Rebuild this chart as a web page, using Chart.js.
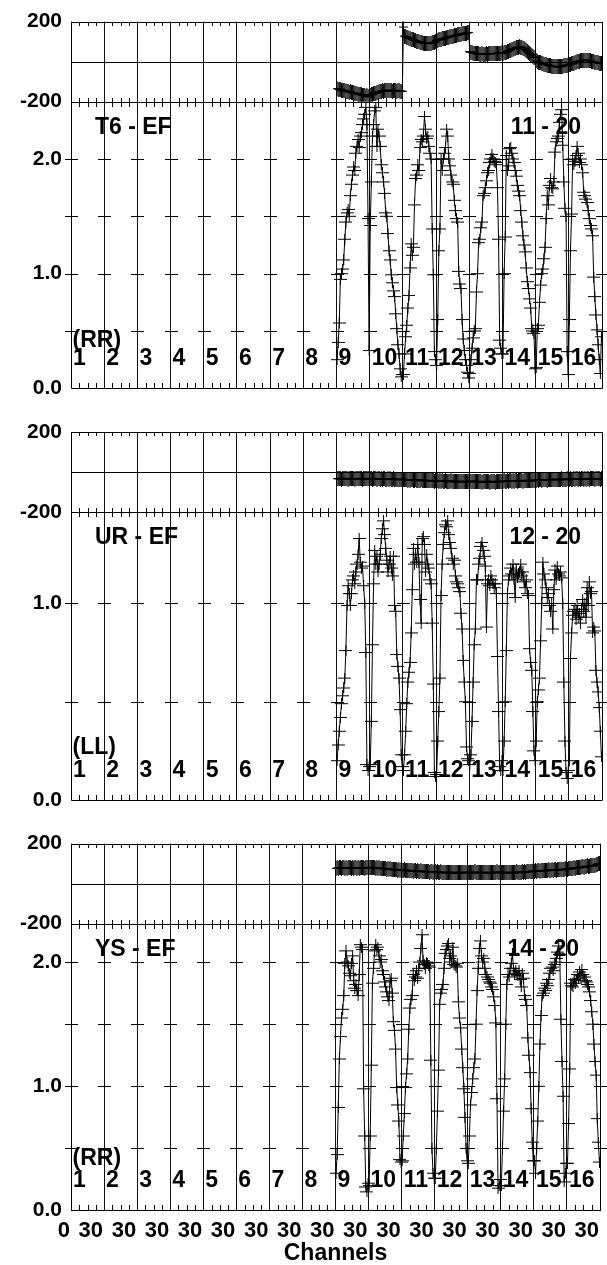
<!DOCTYPE html>
<html><head><meta charset="utf-8">
<script src="https://cdn.jsdelivr.net/npm/chart.js@4.4.1/dist/chart.umd.min.js"></script>
<style>
html,body{margin:0;padding:0;background:#fff;}
body{width:607px;height:1265px;position:relative;overflow:hidden;}
canvas{position:absolute;left:0;}
</style></head><body>
<canvas id="c1" width="607" height="410" style="top:0px"></canvas>
<canvas id="c2" width="607" height="412" style="top:410px"></canvas>
<canvas id="c3" width="607" height="443" style="top:822px"></canvas>
<script>
// ---------------- data ----------------
const channelsPerIF = 30;
const numIFs = 16;
const firstDataIF = 9;
const ifLabels = ['1','2','3','4','5','6','7','8','9','10','11','12','13','14','15','16'];
const channelTickLabels = ['0','30','30','30','30','30','30','30','30','30','30','30','30','30','30','30','30'];
const phaseTickValues = [-200, 0, 200];
const phaseTickText = ['-200', '', '200'];
const ampTickValues = [0, 0.5, 1.0, 1.5, 2.0];
const ampTickText = ['0.0', '', '1.0', '', '2.0'];

const baselines = ['T6 - EF', 'UR - EF', 'YS - EF'];
const plotNumbers = ['11 - 20', '12 - 20', '14 - 20'];
const stokes = ['(RR)', '(LL)', '(RR)'];
const ampMax = [2.5, 1.465, 2.31];

// T6 - EF, IFs 9..16, 30 channels each
const ampT6 = [
 0.25,0.40,0.57,0.95,1.00,1.04,1.12,1.30,1.45,1.53,1.56,1.50,1.68,1.78,1.86,1.93,1.90,2.05,2.11,2.17,2.10,2.20,2.23,2.30,2.35,2.39,2.45,2.30,1.48,0.33,
 1.42,1.80,2.20,2.30,2.42,2.45,2.11,2.26,2.20,2.11,1.95,1.88,1.80,1.70,1.53,1.50,1.35,1.20,1.12,0.99,0.92,0.85,0.80,0.65,0.52,0.38,0.30,0.17,0.10,0.12,
 0.12,0.30,0.45,0.55,0.70,0.81,1.05,1.26,1.16,1.23,1.60,1.83,1.86,1.95,1.90,2.10,2.17,2.15,2.20,2.37,2.26,2.18,2.20,2.11,2.05,2.00,1.39,0.99,0.32,0.25,
 0.20,0.60,1.20,1.39,2.00,1.90,2.00,2.05,2.10,2.26,2.20,2.00,1.94,1.86,1.80,1.78,1.64,1.55,1.48,1.45,1.02,0.91,0.87,0.60,0.43,0.33,0.25,0.20,0.14,0.09,
 0.13,0.25,0.35,0.44,0.50,0.52,0.84,1.00,1.27,1.30,1.40,1.45,1.68,1.70,1.75,1.81,1.88,1.90,1.97,2.00,2.04,2.00,1.98,1.97,1.95,1.75,1.30,0.42,0.35,0.30,
 0.30,1.00,1.32,2.03,1.90,1.94,2.09,2.10,2.05,2.00,1.97,1.90,1.85,1.77,1.72,1.68,1.55,1.45,1.33,1.25,1.19,1.05,0.93,0.87,0.78,0.70,0.52,0.50,0.48,0.17,
 0.18,0.52,0.55,0.75,0.90,1.00,1.04,1.13,1.23,1.48,1.68,1.60,1.77,1.83,1.75,1.74,1.80,2.06,2.15,2.18,2.20,2.32,2.39,2.43,2.12,1.80,1.57,1.50,0.32,0.12,
 0.60,1.20,1.52,2.00,1.95,1.98,2.03,2.11,2.05,1.97,2.00,1.95,1.88,1.71,1.68,1.65,1.62,1.55,1.48,1.42,1.39,1.33,0.97,0.80,0.64,0.51,0.38,0.25,0.13,0.45
];
const phaseT6 = [
 -135,-137,-140,-138,-142,-144,-143,-146,-149,-147,-150,-152,-151,-154,-156,-155,-158,-160,-159,-162,-164,-163,-166,-168,-167,-170,-172,-171,-174,-176,
 -168,-165,-163,-160,-158,-157,-155,-152,-150,-151,-148,-146,-147,-145,-143,-145,-146,-144,-142,-145,-147,-145,-143,-146,-148,-146,-144,-147,-149,-148,
 173,128,125,122,120,117,115,113,111,109,107,105,103,101,99,97,96,94,93,92,91,90,90,91,92,93,94,96,97,99,
 106,108,109,111,112,114,115,117,118,120,121,123,124,126,127,128,130,131,132,134,135,136,137,139,140,141,142,143,144,146,
 50,47,45,43,42,41,40,39,39,38,38,39,38,37,38,39,38,39,40,39,40,41,40,41,42,41,42,43,42,44,
 42,44,46,48,51,53,56,58,61,63,66,68,70,72,73,74,73,71,68,64,60,55,50,45,40,35,30,26,22,19,
 4,1,-2,-4,-6,-8,-10,-12,-14,-15,-17,-18,-20,-21,-22,-23,-24,-25,-25,-26,-26,-25,-24,-23,-22,-20,-19,-18,-17,-16,
 -15,-13,-11,-9,-7,-5,-3,-1,1,3,4,5,6,7,7,8,7,6,5,4,2,0,-1,-3,-4,-5,-6,-7,-8,-9
];

// UR - EF
const ampUR = [
 0.20,0.28,0.35,0.42,0.49,0.53,0.57,0.62,0.76,0.99,1.09,1.05,0.99,1.05,1.12,1.14,1.10,1.16,1.20,1.25,1.33,1.21,1.18,1.19,1.09,1.00,0.75,0.18,0.15,0.17,
 0.18,0.40,0.79,1.10,1.27,1.20,1.24,1.16,1.20,1.25,1.33,1.38,1.42,1.35,1.28,1.22,1.16,1.20,1.24,1.18,1.14,1.24,0.99,0.96,0.74,0.68,0.62,0.46,0.23,0.17,
 0.15,0.23,0.35,0.49,0.60,0.65,0.70,0.85,1.07,1.28,1.20,1.25,1.21,1.30,1.21,1.02,0.90,1.33,1.34,1.30,1.16,1.25,1.20,1.18,1.12,1.10,0.90,0.59,0.14,0.12,
 0.13,0.30,0.45,0.62,1.04,1.20,1.30,1.36,1.40,1.39,1.42,1.35,1.31,1.28,1.23,1.20,1.22,1.14,1.11,1.10,1.08,1.06,0.95,0.87,0.71,0.60,0.50,0.27,0.21,0.20,
 0.18,0.23,0.40,0.60,0.79,0.87,1.12,1.12,1.20,1.23,1.29,1.31,1.27,1.24,1.19,0.88,1.10,1.12,1.09,1.14,1.12,1.10,1.08,1.10,1.05,0.73,0.45,0.17,0.15,0.20,
 0.15,0.30,0.50,0.76,1.05,1.12,1.14,1.18,1.15,1.20,1.12,1.03,1.17,1.13,1.15,1.16,1.20,1.14,1.16,1.11,1.08,1.12,1.05,1.04,0.77,0.70,0.66,0.45,0.25,0.20,
 0.30,0.50,0.56,0.62,0.81,1.00,1.21,1.15,1.12,1.08,1.03,1.05,0.99,0.96,1.00,0.87,1.07,1.17,1.12,1.19,1.15,1.14,1.16,1.13,1.00,0.60,0.30,0.14,0.11,0.15,
 0.20,0.72,0.85,0.94,0.96,0.97,0.92,0.99,0.93,0.95,0.90,0.97,1.02,0.96,1.00,0.93,1.08,0.99,1.11,1.05,1.06,0.85,0.88,0.86,0.66,0.60,0.55,0.47,0.35,0.22
];
const phaseUR = [
 -32,-34,-31,-33,-35,-32,-30,-34,-33,-31,-35,-33,-32,-34,-31,-33,-35,-32,-34,-33,-31,-34,-32,-35,-33,-31,-34,-32,-33,-34,
 -33,-31,-35,-32,-34,-33,-36,-32,-34,-35,-33,-36,-34,-32,-35,-37,-34,-36,-33,-35,-37,-34,-36,-38,-35,-37,-36,-38,-35,-37,
 -38,-36,-39,-37,-40,-38,-41,-39,-37,-40,-42,-39,-41,-43,-40,-42,-39,-41,-43,-40,-42,-44,-41,-43,-42,-44,-41,-43,-45,-42,
 -44,-42,-45,-43,-46,-44,-47,-45,-43,-46,-48,-45,-47,-44,-46,-48,-45,-47,-49,-46,-48,-45,-47,-49,-46,-48,-47,-45,-48,-46,
 -47,-45,-48,-46,-49,-47,-45,-48,-46,-49,-47,-50,-48,-46,-49,-47,-45,-48,-50,-47,-49,-46,-48,-50,-47,-45,-48,-46,-49,-47,
 -46,-44,-47,-45,-43,-46,-44,-42,-45,-43,-46,-44,-42,-45,-43,-41,-44,-42,-45,-43,-41,-44,-42,-40,-43,-41,-44,-42,-40,-43,
 -40,-38,-41,-39,-37,-40,-38,-36,-39,-37,-40,-38,-36,-39,-37,-35,-38,-36,-39,-37,-35,-38,-36,-34,-37,-35,-38,-36,-34,-37,
 -36,-34,-37,-35,-33,-36,-34,-32,-35,-33,-36,-34,-32,-35,-33,-36,-34,-32,-35,-33,-31,-34,-32,-35,-33,-31,-34,-32,-35,-33
];

// YS - EF
const ampYS = [
 0.30,0.45,0.83,1.22,1.40,1.55,1.62,1.73,1.99,2.09,2.00,1.97,1.91,1.89,1.99,2.05,1.85,1.79,1.82,1.77,1.73,1.90,2.14,2.12,2.10,0.98,0.60,0.19,0.15,0.22,
 0.20,0.60,1.17,1.83,1.95,2.09,2.14,2.10,2.12,2.05,2.00,2.02,1.93,1.90,1.84,1.80,1.76,1.72,1.69,1.85,1.87,1.75,1.52,1.45,1.30,0.99,0.85,0.72,0.41,0.39,
 0.40,0.60,0.78,0.99,1.10,1.22,1.46,1.63,1.70,1.73,1.90,1.85,1.88,1.93,1.87,1.95,2.00,2.11,2.22,2.01,1.98,1.95,2.00,1.99,1.97,1.96,1.21,0.50,0.30,0.26,
 0.26,0.50,0.80,1.13,1.66,1.75,1.78,1.82,1.95,2.07,2.10,2.13,2.15,2.03,2.05,2.00,2.12,1.98,1.97,1.96,1.99,1.68,1.55,1.47,1.30,1.15,0.98,0.75,0.50,0.40,
 0.38,0.60,0.85,0.95,1.06,1.15,1.22,1.50,1.77,1.95,2.11,2.17,2.05,2.00,2.03,1.95,1.90,1.88,1.86,1.84,1.83,1.80,1.78,1.72,1.65,1.51,0.90,0.18,0.20,0.25,
 0.20,0.50,0.80,1.06,1.50,1.82,1.90,1.88,1.95,1.99,2.07,1.95,1.90,1.93,1.91,1.89,1.93,1.86,1.80,1.91,1.87,1.73,1.70,1.65,1.39,1.25,1.11,0.82,0.55,0.40,
 0.40,0.30,0.50,0.72,1.00,1.34,1.57,1.73,1.75,1.79,1.77,1.83,1.81,1.86,1.91,1.95,1.96,1.93,1.98,2.00,2.03,2.08,2.13,2.06,1.54,1.20,0.92,0.23,0.30,0.38,
 0.38,0.70,1.14,1.83,1.81,1.80,1.86,1.83,1.85,1.90,1.87,1.92,1.89,1.94,1.90,1.88,1.85,1.84,1.82,1.80,1.76,1.69,1.60,1.50,1.34,1.20,1.09,0.74,0.55,0.39
];
const phaseYS = [
 76,79,77,80,78,75,78,80,77,79,76,78,81,78,76,79,77,80,78,76,79,77,80,78,81,79,77,80,78,80,
 80,82,79,81,78,80,77,79,76,78,75,77,74,76,73,75,72,74,71,73,70,72,69,71,68,70,67,69,66,68,
 67,65,68,66,64,67,65,63,66,64,62,65,63,61,64,62,60,63,61,59,62,60,58,61,59,57,60,58,56,59,
 58,56,59,57,55,58,56,54,57,55,53,56,54,57,55,53,56,54,57,55,53,56,54,57,55,53,56,54,57,55,
 55,57,54,56,53,55,58,56,54,57,55,53,56,54,57,55,53,56,54,57,55,53,56,54,57,55,58,56,54,57,
 56,54,57,55,53,56,54,57,55,53,56,54,57,55,58,56,54,57,55,58,56,59,57,60,58,61,59,62,60,63,
 62,64,61,63,65,62,64,66,63,65,67,64,66,68,65,67,69,66,68,70,67,69,71,68,70,72,69,71,73,70,
 72,74,76,73,75,77,79,76,78,80,82,79,81,83,85,82,84,86,88,85,87,89,91,88,90,92,94,97,99,101
];

// ---------------- helpers ----------------
const FONT = '"Liberation Sans", Arial, Helvetica, sans-serif';

function toPoints(values) {
  const x0 = (firstDataIF - 1) * channelsPerIF;
  return values.map((v, i) => ({ x: x0 + i + 0.5, y: v }));
}
function makeCross(w, h) {
  const c = document.createElement('canvas');
  c.width = w; c.height = h;
  const g = c.getContext('2d');
  g.fillStyle = '#000';
  g.fillRect(0, Math.floor(h / 2), w, 1);
  g.fillRect(Math.floor(w / 2), 0, 1, h);
  return c;
}
const ampCross = makeCross(13, 11);
const phaseCross = makeCross(9, 15);

const decorPlugin = {
  id: 'decor',
  beforeDatasetsDraw(chart, args, o) {
    const ctx = chart.ctx;
    const xs = chart.scales.x, yP = chart.scales.yP, yA = chart.scales.yA;
    const L = chart.chartArea.left, R = chart.chartArea.right;
    const M = yP.bottom, B = yA.bottom;
    ctx.save();
    ctx.fillStyle = '#000';
    ctx.font = 'bold 23px ' + FONT;
    ctx.textBaseline = 'middle';
    ctx.textAlign = 'left';
    ctx.fillText(o.baseline, L + 24, M + 26);
    ctx.textAlign = 'right';
    ctx.fillText(o.plotNo, R - 21, M + 26);
    ctx.textAlign = 'left';
    ctx.fillText(o.stokes, L + 1.5, B - o.stokesOffset);
    ifLabels.forEach((s, k) => {
      ctx.fillText(s, xs.getPixelForValue(k * channelsPerIF) + 2, B - 29.5);
    });
    ctx.restore();
  },
  afterDatasetsDraw(chart) {
    const ctx = chart.ctx;
    const xs = chart.scales.x, yP = chart.scales.yP, yA = chart.scales.yA;
    const L = chart.chartArea.left, R = chart.chartArea.right;
    const T = yP.top, M = yP.bottom, B = yA.bottom;
    const cx = v => Math.round(v) + 0.5;
    ctx.save();
    ctx.strokeStyle = '#000';
    ctx.lineWidth = 1;
    ctx.beginPath();
    ctx.rect(cx(L), cx(T), Math.round(R) - Math.round(L), Math.round(B) - Math.round(T));
    ctx.moveTo(cx(L), cx(M)); ctx.lineTo(cx(R), cx(M));
    const z = cx(yP.getPixelForValue(0));
    ctx.moveTo(cx(L), z); ctx.lineTo(cx(R), z);
    const xmax = numIFs * channelsPerIF;
    const minor = channelsPerIF / 4;
    for (let v = minor; v < xmax; v += minor) {
      if (v % channelsPerIF === 0) continue;
      const px = cx(xs.getPixelForValue(v));
      ctx.moveTo(px, Math.round(T)); ctx.lineTo(px, Math.round(T) + 4);
      ctx.moveTo(px, Math.round(M) - 4); ctx.lineTo(px, Math.round(M) + 5);
      ctx.moveTo(px, Math.round(B) - 5); ctx.lineTo(px, Math.round(B));
    }
    for (const t of yA.ticks) {
      if (t.value <= 0 || t.value >= yA.max - 1e-6) continue;
      const py = cx(yA.getPixelForValue(t.value));
      for (let k = 0; k <= numIFs; k++) {
        const px = Math.round(xs.getPixelForValue(k * channelsPerIF));
        ctx.moveTo(px - 6, py); ctx.lineTo(px + 7, py);
      }
    }
    ctx.stroke();
    ctx.restore();
  }
};

function lineStyle(img) {
  return {
    borderColor: '#000', borderWidth: 1, tension: 0, fill: false,
    pointStyle: img, pointRadius: 4, pointHoverRadius: 4,
    pointBackgroundColor: '#000', pointBorderColor: '#000'
  };
}

function makePanel(id, idx, geo) {
  const showX = geo.showX;
  const tickFont = { family: FONT, size: 21, weight: 'bold' };
  return new Chart(document.getElementById(id), {
    type: 'line',
    data: {
      datasets: [
        Object.assign({ label: 'phase', yAxisID: 'yP', data: toPoints(geo.phase) }, lineStyle(phaseCross)),
        Object.assign({ label: 'amplitude', yAxisID: 'yA', data: toPoints(geo.amp) }, lineStyle(ampCross))
      ]
    },
    options: {
      responsive: false, animation: false, devicePixelRatio: 1, events: [],
      layout: { padding: { top: geo.padTop, right: 2.7, bottom: 0, left: 0 } },
      plugins: {
        legend: { display: false }, tooltip: { enabled: false },
        decor: { baseline: baselines[idx], plotNo: plotNumbers[idx], stokes: stokes[idx], stokesOffset: geo.stokesOffset }
      },
      scales: {
        x: {
          type: 'linear', position: 'bottom', min: 0, max: numIFs * channelsPerIF,
          afterFit: s => { s.height = geo.xHeight; },
          grid: { color: '#111', lineWidth: 1, drawTicks: false },
          border: { display: false },
          ticks: {
            display: showX, stepSize: channelsPerIF, autoSkip: false, maxRotation: 0, minRotation: 0,
            align: 'end', padding: 7, labelOffset: -1, color: '#000',
            font: { family: FONT, size: 22, weight: 'bold' },
            callback: (v, i) => channelTickLabels[i]
          },
          title: {
            display: showX, text: 'Channels', color: '#000', padding: 0,
            font: { family: FONT, size: 23, weight: 'bold', lineHeight: 1 }
          }
        },
        yP: {
          type: 'linear', position: 'left', stack: 'panel', stackWeight: geo.wP, weight: 2,
          min: phaseTickValues[0], max: phaseTickValues[2],
          afterFit: s => { s.width = 71; },
          grid: { display: false, drawTicks: false }, border: { display: false },
          ticks: {
            stepSize: 200, autoSkip: false, padding: 9, color: '#000', font: tickFont,
            callback: v => { const i = phaseTickValues.indexOf(v); return i >= 0 ? phaseTickText[i] : ''; }
          }
        },
        yA: {
          type: 'linear', position: 'left', stack: 'panel', stackWeight: geo.wA, weight: 1,
          min: 0, max: ampMax[idx],
          afterFit: s => { s.width = 71; },
          grid: { display: false, drawTicks: false }, border: { display: false },
          ticks: {
            stepSize: 0.5, autoSkip: false, padding: 9, color: '#000', font: tickFont,
            callback: v => { const i = ampTickValues.findIndex(t => Math.abs(t - v) < 1e-6); return i >= 0 ? ampTickText[i] : ''; }
          }
        }
      }
    },
    plugins: [decorPlugin]
  });
}

makePanel('c1', 0, { amp: ampT6, phase: phaseT6, padTop: 19.5, xHeight: 21.7, wP: 80.5, wA: 288.3, stokesOffset: 48, showX: false });
makePanel('c2', 1, { amp: ampUR, phase: phaseUR, padTop: 22.3, xHeight: 22, wP: 79.7, wA: 288, stokesOffset: 52, showX: false });
makePanel('c3', 2, { amp: ampYS, phase: phaseYS, padTop: 21.3, xHeight: 54.5, wP: 80, wA: 287.2, stokesOffset: 52, showX: true });
</script>
</body></html>
